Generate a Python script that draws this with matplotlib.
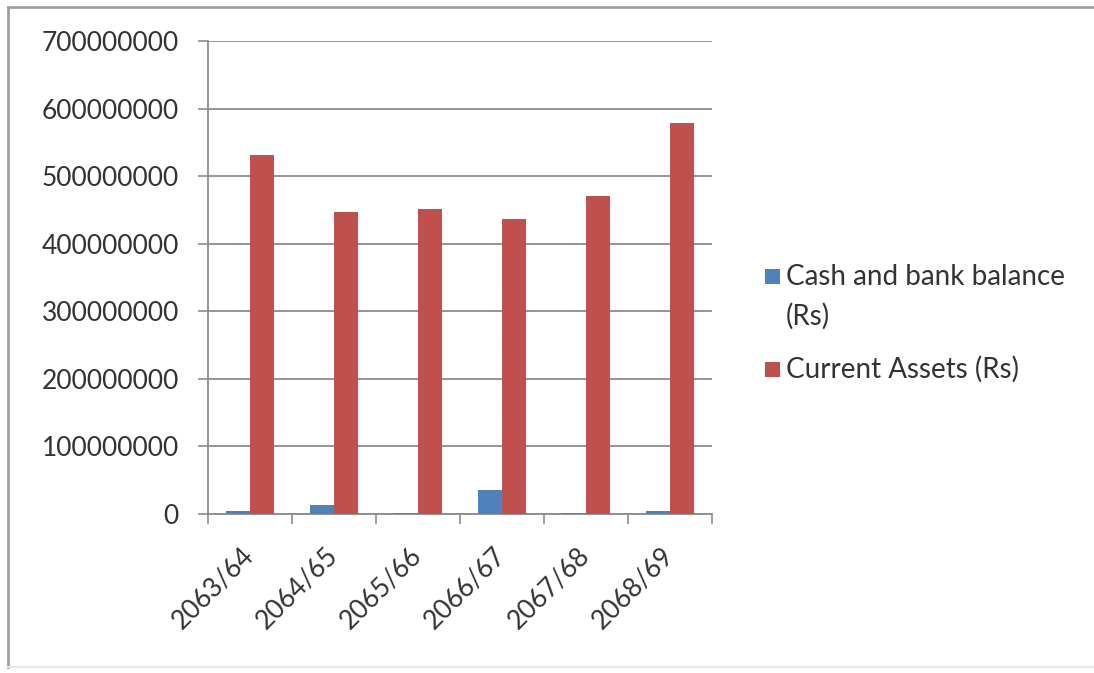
import matplotlib
matplotlib.use("Agg")
import matplotlib.pyplot as plt
import numpy as np
from matplotlib.lines import Line2D
from matplotlib.patches import Rectangle

years = ["2063/64", "2064/65", "2065/66", "2066/67", "2067/68", "2068/69"]
cash_bank = [4000000, 13000000, 2000000, 36000000, 2000000, 4000000]
current_assets = [532000000, 447000000, 452000000, 437000000, 470000000, 578000000]
series_names = [["Cash and bank balance", "(Rs)"], ["Current Assets (Rs)"]]
y_ticks = [0, 100000000, 200000000, 300000000, 400000000, 500000000, 600000000, 700000000]

blue = "#4F81BD"
red = "#C0504D"
text_col = "#333333"
grid_col = "#8C8C8C"

plt.rcParams["font.family"] = ["Lato", "DejaVu Sans"]

fig = plt.figure(figsize=(10.94, 6.73), dpi=100)
W, H = 1094, 673
ax = fig.add_axes([208 / W, 1 - 514 / H, (712 - 208) / W, (514 - 41) / H])

x = np.arange(len(years))
w = 0.285
ax.bar(x - w / 2, cash_bank, width=w, color=blue, zorder=3)
ax.bar(x + w / 2, current_assets, width=w, color=red, zorder=3)

ax.set_xlim(-0.5, len(years) - 0.5)
ax.set_ylim(0, 700000000)
ax.set_yticks(y_ticks)
ax.set_yticklabels([str(v) for v in y_ticks], fontsize=19, color=text_col)
ax.yaxis.grid(True, color=grid_col, linewidth=1.3, zorder=0)
ax.set_axisbelow(True)

# category labels at centres, boundary tick marks at edges
ax.set_xticks(x)
ax.set_xticklabels(years, rotation=45, ha="right", va="center",
                   rotation_mode="anchor", fontsize=19, color=text_col)
ax.tick_params(axis="x", which="major", length=0, pad=27)
ax.set_xticks(np.arange(-0.5, len(years)), minor=True)
ax.tick_params(axis="x", which="minor", length=7, color=grid_col, width=1.2)
ax.tick_params(axis="y", length=7, color=grid_col, width=1.2, pad=14)

for s in ["top", "right"]:
    ax.spines[s].set_visible(False)
for s in ["left", "bottom"]:
    ax.spines[s].set_color(grid_col)
    ax.spines[s].set_linewidth(1.3)

# legend: coloured squares with labels, placed in figure pixels
def px(xp, yp):
    return xp / W, 1 - yp / H

legend_rows = [
    (blue, 276, [(series_names[0][0], 285), (series_names[0][1], 325)]),
    (red, 369, [(series_names[1][0], 378)]),
]
sq = 15
for color, yc, lines in legend_rows:
    x0, y0 = px(765, yc + sq / 2)
    fig.add_artist(Rectangle((x0, y0), sq / W, sq / H, transform=fig.transFigure,
                             facecolor=color, edgecolor="none"))
    for txt, yb in lines:
        tx, ty = px(786, yb)
        fig.text(tx, ty, txt, fontsize=20, color=text_col, ha="left", va="baseline")

# outer frame
fig.add_artist(Line2D([8 / W, 8 / W], [1 - 667 / H, 1 - 7 / H],
                      transform=fig.transFigure, color="#A0A0A0", linewidth=2))
fig.add_artist(Line2D([8 / W, 1.0], [1 - 7 / H, 1 - 7 / H],
                      transform=fig.transFigure, color="#A0A0A0", linewidth=2))
fig.add_artist(Line2D([8 / W, 1.0], [1 - 667 / H, 1 - 667 / H],
                      transform=fig.transFigure, color="#E6E6E6", linewidth=1.5))

fig.savefig("out.png", dpi=100)
